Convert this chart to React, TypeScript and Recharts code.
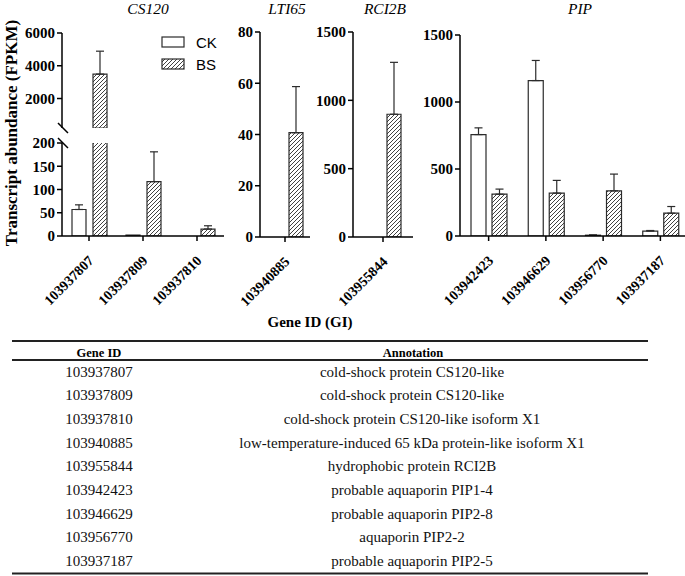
import { BarChart, Bar, XAxis, YAxis, ErrorBar } from 'recharts';

const SERIF = '"Times New Roman", "Liberation Serif", serif';
const SANS = 'Arial, "Liberation Sans", sans-serif';
const INK = '#2b2b2b';

// CS120 panel (broken y axis at 200)
const CS120_IDS = ['103937807', '103937809', '103937810'];
const CS120_CK = [57, 2, 0];
const CS120_CK_ERR = [10, 0, 0];
const CS120_BS = [3490, 117, 15];
const CS120_BS_ERR = [1400, 64, 7];
const CS120_BREAK = 200;

// LTI65 panel
const LTI65_IDS = ['103940885'];
const LTI65_CK = [0];
const LTI65_CK_ERR = [0];
const LTI65_BS = [40.7];
const LTI65_BS_ERR = [18];

// RCI2B panel
const RCI2B_IDS = ['103955844'];
const RCI2B_CK = [0];
const RCI2B_CK_ERR = [0];
const RCI2B_BS = [898];
const RCI2B_BS_ERR = [380];

// PIP panel
const PIP_IDS = ['103942423', '103946629', '103956770', '103937187'];
const PIP_CK = [757, 1160, 6, 37];
const PIP_CK_ERR = [50, 150, 2, 4];
const PIP_BS = [312, 320, 337, 170];
const PIP_BS_ERR = [38, 95, 125, 50];

// table under the chart
const TABLE_IDS = [
  '103937807', '103937809', '103937810', '103940885', '103955844',
  '103942423', '103946629', '103956770', '103937187',
];
const TABLE_ANNOT = [
  'cold-shock protein CS120-like',
  'cold-shock protein CS120-like',
  'cold-shock protein CS120-like isoform X1',
  'low-temperature-induced 65 kDa protein-like isoform X1',
  'hydrophobic protein RCI2B',
  'probable aquaporin PIP1-4',
  'probable aquaporin PIP2-8',
  'aquaporin PIP2-2',
  'probable aquaporin PIP2-5',
];

type Row = {
  id: string;
  ck: number | null;
  bs: number | null;
  ckErr: number[] | null;
  bsErr: number[] | null;
};

// one-sided (upper) error bars
const err = (e: number) => (e > 0 ? [0, e] : null);

function makeRows(ids: string[], ck: number[], ckErr: number[], bs: number[], bsErr: number[]): Row[] {
  return ids.map((id, i) => ({ id, ck: ck[i], bs: bs[i], ckErr: err(ckErr[i]), bsErr: err(bsErr[i]) }));
}

const cs120Low = makeRows(CS120_IDS, CS120_CK, CS120_CK_ERR, CS120_BS, CS120_BS_ERR);
// upper segment only shows what rises above the break
const cs120High: Row[] = CS120_IDS.map((id, i) => ({
  id,
  ck: CS120_CK[i] > CS120_BREAK ? CS120_CK[i] : null,
  bs: CS120_BS[i] > CS120_BREAK ? CS120_BS[i] : null,
  ckErr: CS120_CK[i] > CS120_BREAK ? err(CS120_CK_ERR[i]) : null,
  bsErr: CS120_BS[i] > CS120_BREAK ? err(CS120_BS_ERR[i]) : null,
}));
const lti65Rows = makeRows(LTI65_IDS, LTI65_CK, LTI65_CK_ERR, LTI65_BS, LTI65_BS_ERR);
const rci2bRows = makeRows(RCI2B_IDS, RCI2B_CK, RCI2B_CK_ERR, RCI2B_BS, RCI2B_BS_ERR);
const pipRows = makeRows(PIP_IDS, PIP_CK, PIP_CK_ERR, PIP_BS, PIP_BS_ERR);

const AXIS_LINE = { stroke: '#000', strokeWidth: 1.5 };
const Y_TICK = { fill: '#000', fontSize: 15, fontWeight: 'bold', fontFamily: SERIF };

function XTick(props: any) {
  const { x, y, payload } = props;
  return (
    <text
      x={0}
      y={0}
      dy="0.35em"
      textAnchor="end"
      transform={`translate(${x + 2},${y + 15}) rotate(-45)`}
      fill="#000"
      fontSize={14}
      fontWeight="bold"
      fontFamily={SERIF}
    >
      {payload.value}
    </text>
  );
}

interface PanelProps {
  left: number;
  right: number;
  top: number;
  bottom: number;
  rows: Row[];
  domain: [number, number];
  ticks: number[];
  showX?: boolean;
  barSize?: number;
  barGap?: number;
}

function Panel({ left, right, top, bottom, rows, domain, ticks, showX = true, barSize = 14, barGap = 7 }: PanelProps) {
  const yw = 50;
  const mt = 10;
  const mr = 4;
  const xh = 80;
  const w = right - left + yw + mr;
  const h = bottom - top + mt + (showX ? xh : 2);
  return (
    <div style={{ position: 'absolute', left: left - yw, top: top - mt }}>
      <BarChart
        width={w}
        height={h}
        data={rows}
        margin={{ top: mt, right: mr, bottom: showX ? 0 : 2, left: 0 }}
        barSize={barSize}
        barGap={barGap}
      >
        <XAxis
          dataKey="id"
          hide={!showX}
          height={xh}
          interval={0}
          tick={XTick}
          axisLine={AXIS_LINE}
          tickLine={AXIS_LINE}
          tickSize={5}
        />
        <YAxis
          type="number"
          domain={domain}
          ticks={ticks}
          allowDataOverflow
          width={yw}
          tick={Y_TICK}
          axisLine={AXIS_LINE}
          tickLine={AXIS_LINE}
          tickSize={5}
          tickMargin={2}
        />
        <Bar dataKey="ck" fill="#fff" stroke={INK} strokeWidth={1.2} isAnimationActive={false}>
          <ErrorBar dataKey="ckErr" width={4} stroke={INK} strokeWidth={1.2} isAnimationActive={false} />
        </Bar>
        <Bar dataKey="bs" fill="url(#hatch)" stroke={INK} strokeWidth={1.2} isAnimationActive={false}>
          <ErrorBar dataKey="bsErr" width={4} stroke={INK} strokeWidth={1.2} isAnimationActive={false} />
        </Bar>
      </BarChart>
    </div>
  );
}

function Overlay() {
  const rowY0 = 376.8;
  const rowStep = 23.62;
  return (
    <svg width={685} height={576} style={{ position: 'absolute', left: 0, top: 0 }}>
      <defs>
        <pattern id="hatch" patternUnits="userSpaceOnUse" width={4} height={4}>
          <rect width={4} height={4} fill="#fff" />
          <path d="M-1,1 l2,-2 M0,4 l4,-4 M3,5 l2,-2" stroke={INK} strokeWidth={0.9} />
        </pattern>
      </defs>

      {/* panel titles */}
      <g fontFamily={SERIF} fontStyle="italic" fontSize={15.5} fill="#000" textAnchor="middle">
        <text x={148} y={14}>CS120</text>
        <text x={287} y={14}>LTI65</text>
        <text x={385} y={14}>RCI2B</text>
        <text x={580} y={14}>PIP</text>
      </g>

      <text
        transform="translate(11,133) rotate(-90)"
        textAnchor="middle"
        dominantBaseline="central"
        fontFamily={SERIF}
        fontWeight="bold"
        fontSize={17}
        fill="#000"
      >
        Transcript abundance (FPKM)
      </text>

      {/* legend */}
      <rect x={162} y={37} width={22} height={10} fill="#fff" stroke={INK} strokeWidth={1.2} />
      <rect x={162} y={59} width={22} height={10} fill="url(#hatch)" stroke={INK} strokeWidth={1.2} />
      <g fontFamily={SANS} fontSize={15} fill="#000">
        <text x={196} y={47.5}>CK</text>
        <text x={196} y={69.5}>BS</text>
      </g>

      {/* axis break marks */}
      <line x1={58} y1={123} x2={68} y2={133} stroke="#000" strokeWidth={1.5} />
      <line x1={58} y1={138} x2={68} y2={148} stroke="#000" strokeWidth={1.5} />

      <text x={310} y={327} textAnchor="middle" fontFamily={SERIF} fontWeight="bold" fontSize={15} fill="#000">
        Gene ID (GI)
      </text>

      {/* annotation table */}
      <line x1={12} y1={341} x2={648} y2={341} stroke="#222" strokeWidth={2} />
      <line x1={12} y1={360} x2={648} y2={360} stroke="#222" strokeWidth={2} />
      <line x1={12} y1={573.5} x2={648} y2={573.5} stroke="#222" strokeWidth={2} />
      <g fontFamily={SERIF} fontWeight="bold" fontSize={12.5} fill="#000" textAnchor="middle">
        <text x={99} y={357}>Gene ID</text>
        <text x={413} y={357}>Annotation</text>
      </g>
      <g fontFamily={SERIF} fontSize={15} fill="#111" textAnchor="middle">
        {TABLE_IDS.map((id, i) => (
          <text key={id} x={99} y={rowY0 + i * rowStep}>{id}</text>
        ))}
        {TABLE_ANNOT.map((a, i) => (
          <text key={i} x={412} y={rowY0 + i * rowStep}>{a}</text>
        ))}
      </g>
    </svg>
  );
}

export default function App() {
  return (
    <div
      style={{
        position: 'absolute',
        left: 0,
        top: 0,
        width: 685,
        height: 576,
        overflow: 'hidden',
        background: '#fff',
      }}
    >
      <Overlay />
      <Panel left={62} right={224} top={33} bottom={128} rows={cs120High} domain={[CS120_BREAK, 6000]} ticks={[2000, 4000, 6000]} showX={false} />
      <Panel left={62} right={224} top={143} bottom={236} rows={cs120Low} domain={[0, CS120_BREAK]} ticks={[0, 50, 100, 150, 200]} />
      <Panel left={260} right={310} top={32} bottom={237} rows={lti65Rows} domain={[0, 80]} ticks={[0, 20, 40, 60, 80]} />
      <Panel left={353} right={413} top={32} bottom={237} rows={rci2bRows} domain={[0, 1500]} ticks={[0, 500, 1000, 1500]} />
      <Panel left={460} right={689} top={35} bottom={236} rows={pipRows} domain={[0, 1500]} ticks={[0, 500, 1000, 1500]} barSize={15} barGap={6} />
    </div>
  );
}
